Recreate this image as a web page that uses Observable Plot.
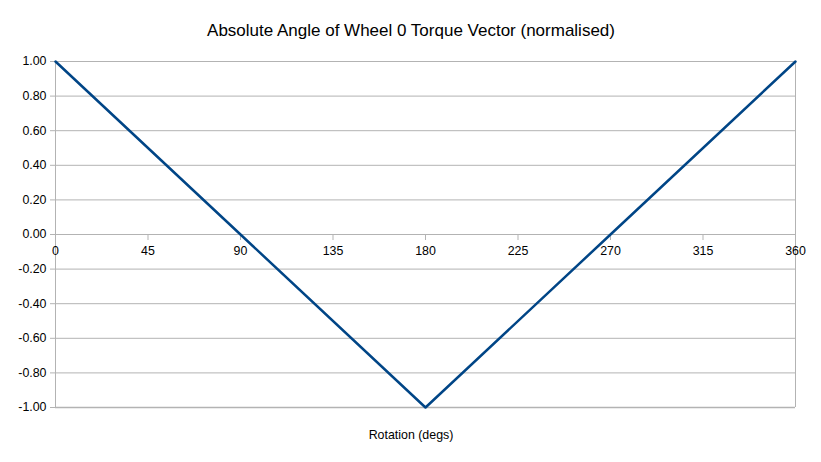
<!DOCTYPE html>
<html><head><meta charset="utf-8">
<script src="https://cdn.jsdelivr.net/npm/d3@7"></script>
<script src="https://cdn.jsdelivr.net/npm/@observablehq/plot@0.6"></script>
<style>body{margin:0;background:#fff;font-family:"Liberation Sans",Arial,sans-serif}</style>
</head><body><div id="chart"></div>
<script>
const angles = [0, 90, 180, 270, 360];
const values = [1, 0, -1, 0, 1];
const xTicks = [0, 45, 90, 135, 180, 225, 270, 315, 360];
const yTicks = [-1, -0.8, -0.6, -0.4, -0.2, 0, 0.2, 0.4, 0.6, 0.8, 1];
const title = "Absolute Angle of Wheel 0 Torque Vector (normalised)";
const xTitle = "Rotation (degs)";
const data = angles.map((a, i) => ({angle: a, value: values[i]}));
const grid = "#b3b3b3";
const fmt = d => d3.format(".2f")(d).replace("\u2212", "-");
const chart = Plot.plot({
  width: 821, height: 462,
  marginLeft: 55, marginRight: 26, marginTop: 61, marginBottom: 55,
  style: {fontFamily: "'Liberation Sans', Arial, sans-serif", fontSize: "12px", color: "#000", background: "#fff"},
  x: {domain: [0, 360], axis: null},
  y: {domain: [-1, 1], axis: null},
  marks: [
    Plot.ruleY(yTicks, {stroke: grid, strokeWidth: 1}),
    Plot.ruleY([-1], {stroke: grid, strokeWidth: 1.5}),
    Plot.ruleX([0, 360], {stroke: grid, strokeWidth: 1}),
    Plot.axisY({ticks: yTicks, tickFormat: fmt, label: null, tickSize: 5, tickPadding: 4, stroke: grid, fontSize: 12.4, color: "#000"}),
    Plot.ruleX(xTicks, {x: d => d, y1: 0, y2: 0, insetBottom: -6, stroke: grid}),
    Plot.text(xTicks, {x: d => d, y: 0, dy: 17, text: d => String(d), fontSize: 12.4, fill: "#000"}),
    Plot.line(data, {x: "angle", y: "value", stroke: "#004586", strokeWidth: 2.5}),
    Plot.text([title], {frameAnchor: "top", lineAnchor: "middle", dx: -14.5, dy: -31, text: d => d, fontSize: 17, fill: "#000"}),
    Plot.text([xTitle], {frameAnchor: "bottom", lineAnchor: "middle", dx: -14.5, dy: 28, text: d => d, fontSize: 12.4, fill: "#000"})
  ]
});
document.getElementById("chart").appendChild(chart);
</script></body></html>
